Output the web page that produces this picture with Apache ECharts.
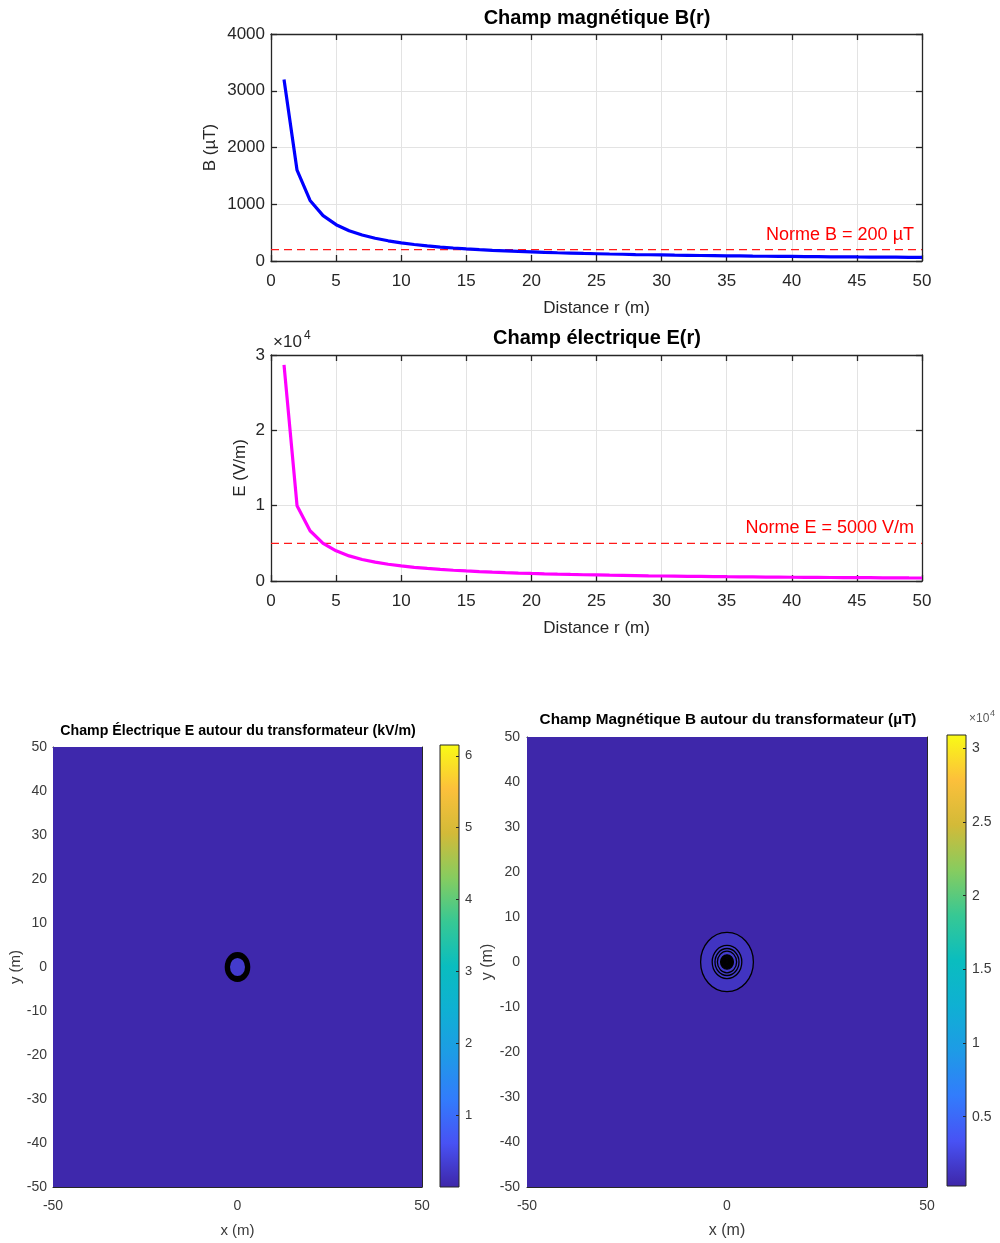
<!DOCTYPE html>
<html>
<head>
<meta charset="utf-8">
<title>Champs E et B autour du transformateur</title>
<script src="https://cdn.jsdelivr.net/npm/echarts@6/dist/echarts.min.js"></script>
<style>
  html, body { margin: 0; padding: 0; background: #fff; }
  #chart { width: 1000px; height: 1243px; }
</style>
</head>
<body>
<div id="chart"></div>
<script>
// distance r (m) and field values
const rValues = [1, 2, 3, 4, 5, 6, 7, 8, 9, 10, 11, 12, 13, 14, 15, 16, 17, 18, 19, 20,
  21, 22, 23, 24, 25, 26, 27, 28, 29, 30, 31, 32, 33, 34, 35, 36, 37, 38, 39, 40,
  41, 42, 43, 44, 45, 46, 47, 48, 49, 50]
const bValues = [3200, 1600, 1067, 800, 640, 533, 457, 400, 356, 320, 291, 267, 246, 229, 213,
  200, 188, 178, 168, 160, 152, 145, 139, 133, 128, 123, 119, 114, 110, 107, 103, 100, 97, 94,
  91, 89, 86, 84, 82, 80, 78, 76, 74, 73, 71, 70, 68, 67, 65, 64]
const eValues = [28700, 10000, 6667, 5000, 4000, 3333, 2857, 2500, 2222, 2000, 1818, 1667, 1538,
  1429, 1333, 1250, 1176, 1111, 1053, 1000, 952, 909, 870, 833, 800, 769, 741, 714, 690, 667,
  645, 625, 606, 588, 571, 556, 541, 526, 513, 500, 488, 476, 465, 455, 444, 435, 426, 417,
  408, 400]
const normSpan = [0, 50]                  // distance range covered by the limit lines
const bNorm = 200
const eNorm = 5000
const bNormLabel = 'Norme B = 200 µT'
const eNormLabel = 'Norme E = 5000 V/m'

// 2D maps: transformer at the origin, field bands (radius m, value) and contour radii (m)
const sourceXY = [0, 0]
const eBandRadius = [72, 2.3]
const eBandValue = [0.03, 0.3]            // kV/m
const eContourRadius = [2.3, 2.6, 2.9, 3.2]
const bBandRadius = [72, 6.6, 3.7]
const bBandValue = [400, 1300, 1800]      // µT
const bContourRadius = [6.6, 3.7, 3.0, 2.4, 1.6, 1.45, 1.3, 1.15, 1.0, 0.85, 0.7, 0.55, 0.4, 0.25, 0.1]
const eScale = [0, 6.15]
const bScale = [300, 30900]
const eBarTicks = [1, 2, 3, 4, 5, 6]
const bBarTicks = [5000, 10000, 15000, 20000, 25000, 30000]

const parula = ['#3e26a8', '#4852f4', '#327cfc', '#1e9be6', '#0fb0d3', '#0abdbf',
  '#37c894', '#87cc5f', '#d3ba38', '#fcc03b', '#f9fb15']

const FONT = "'Liberation Sans', Arial, sans-serif"
const INK = '#262626'
const GREY = '#3a3a3a'

const chart = echarts.init(document.getElementById('chart'), null, { renderer: 'canvas' })

function gradientStops() {
  return parula.map((c, i) => ({ offset: i / (parula.length - 1), color: c }))
}

// axis that only shows the box line with inside ticks (top / right sides)
function boxAxis(gridIndex, position, min, max, interval, tickLen, lw) {
  return {
    type: 'value', gridIndex, position, min, max, interval,
    axisLine: { show: true, onZero: false, lineStyle: { color: INK, width: lw } },
    axisTick: { show: true, inside: true, length: tickLen, lineStyle: { color: INK, width: lw } },
    axisLabel: { show: false },
    splitLine: { show: false }
  }
}

function lineAxis(gridIndex, position, min, max, interval, opts) {
  return Object.assign({
    type: 'value', gridIndex, position, min, max, interval,
    axisLine: { show: true, onZero: false, lineStyle: { color: INK, width: 1.3 } },
    axisTick: { show: true, inside: true, length: 6, lineStyle: { color: INK, width: 1.3 } },
    splitLine: { show: true, lineStyle: { color: '#e3e3e3', width: 1 } },
    nameLocation: 'middle', nameMoveOverlap: false,
    nameTextStyle: { color: INK, fontSize: 17, fontFamily: FONT }
  }, opts)
}

function mapAxis(gridIndex, position, interval, name, nameGap, nameSize, labelSize, margin) {
  return {
    type: 'value', gridIndex, position, min: -50, max: 50, interval,
    name, nameGap, nameLocation: 'middle', nameMoveOverlap: false,
    nameTextStyle: { color: GREY, fontSize: nameSize, fontFamily: FONT },
    axisLine: { show: true, onZero: false, lineStyle: { color: INK, width: 1 } },
    axisTick: { show: true, inside: true, length: 4, lineStyle: { color: INK } },
    axisLabel: { color: GREY, fontSize: labelSize, fontFamily: FONT, margin },
    splitLine: { show: false }
  }
}

function barAxis(gridIndex, scale, ticks, labelSize, fmt) {
  return {
    type: 'value', gridIndex, position: 'right', min: scale[0], max: scale[1],
    axisLine: { show: false, onZero: false }, splitLine: { show: false },
    axisTick: { show: true, inside: true, length: 3, customValues: ticks, lineStyle: { color: INK } },
    axisLabel: { color: GREY, fontSize: labelSize, fontFamily: FONT, margin: 6,
      customValues: ticks, formatter: fmt }
  }
}

function bandItem(radius, value) {
  return [sourceXY[0], sourceXY[1], radius, value]
}

function renderBand(params, api) {
  const c = api.coord([api.value(0), api.value(1)])
  const s = api.size([api.value(2), api.value(2)])
  return {
    type: 'ellipse',
    shape: { cx: c[0], cy: c[1], rx: s[0], ry: s[1] },
    style: { fill: api.visual('color') }
  }
}

function contourRenderer(width) {
  return function(params, api) {
    const c = api.coord([api.value(0), api.value(1)])
    const s = api.size([api.value(2), api.value(2)])
    return {
      type: 'ellipse',
      shape: { cx: c[0], cy: c[1], rx: s[0], ry: s[1] },
      style: { fill: 'none', stroke: '#000', lineWidth: width }
    }
  }
}

function titleText(text, x, y, size) {
  return {
    type: 'text', x, y, z: 10,
    style: { text, fill: '#000', font: 'bold ' + size + 'px ' + FONT,
      textAlign: 'center', textVerticalAlign: 'middle' }
  }
}

// dashed limit line, drawn as its own line series; a markLine carries only the text
function normSeries(axisIndex, value, label) {
  return {
    name: label, type: 'line', xAxisIndex: axisIndex, yAxisIndex: axisIndex,
    silent: true, z: 3,
    data: normSpan.map(x => [x, value]),
    showSymbol: false, symbol: 'none',
    lineStyle: { color: '#ff1a1a', width: 1.2, type: [8, 5] },
    markLine: {
      silent: true, symbol: 'none',
      lineStyle: { color: 'rgba(255,255,255,0)', width: 0 },
      label: { position: 'insideEndTop', formatter: label, color: '#ff0000',
        fontSize: 18, fontFamily: FONT, distance: [8, 6] },
      data: [{ yAxis: value }]
    }
  }
}

const option = {
  animation: false,
  backgroundColor: '#fff',
  grid: [
    { left: 271, top: 34, width: 651, height: 227 },
    { left: 271, top: 355, width: 651, height: 226 },
    { left: 53, top: 747, width: 369, height: 440 },
    { left: 440, top: 745, width: 19, height: 442, show: true, borderColor: INK, borderWidth: 1,
      backgroundColor: new echarts.graphic.LinearGradient(0, 1, 0, 0, gradientStops()) },
    { left: 527, top: 737, width: 400, height: 450 },
    { left: 947, top: 735, width: 19, height: 451, show: true, borderColor: INK, borderWidth: 1,
      backgroundColor: new echarts.graphic.LinearGradient(0, 1, 0, 0, gradientStops()) }
  ],
  xAxis: [
    lineAxis(0, 'bottom', 0, 50, 5, {
      name: 'Distance r (m)', nameGap: 39,
      axisLabel: { color: INK, fontSize: 17, fontFamily: FONT, margin: 12 }
    }),
    boxAxis(0, 'top', 0, 50, 5, 6, 1.3),
    lineAxis(1, 'bottom', 0, 50, 5, {
      name: 'Distance r (m)', nameGap: 39,
      axisLabel: { color: INK, fontSize: 17, fontFamily: FONT, margin: 12 }
    }),
    boxAxis(1, 'top', 0, 50, 5, 6, 1.3),
    mapAxis(2, 'bottom', 50, 'x (m)', 36, 15, 14, 12),
    boxAxis(2, 'top', -50, 50, 50, 4, 1),
    { type: 'value', gridIndex: 3, min: 0, max: 1, show: false },
    mapAxis(4, 'bottom', 50, 'x (m)', 36, 16, 14, 12),
    boxAxis(4, 'top', -50, 50, 50, 4, 1),
    { type: 'value', gridIndex: 5, min: 0, max: 1, show: false }
  ],
  yAxis: [
    lineAxis(0, 'left', 0, 4000, 1000, {
      name: 'B (µT)', nameGap: 52,
      axisLabel: { color: INK, fontSize: 17, fontFamily: FONT, margin: 6, formatter: v => String(v) }
    }),
    boxAxis(0, 'right', 0, 4000, 1000, 6, 1.3),
    lineAxis(1, 'left', 0, 30000, 10000, {
      name: 'E (V/m)', nameGap: 22,
      axisLabel: { color: INK, fontSize: 17, fontFamily: FONT, margin: 6,
        formatter: v => String(v / 10000) }
    }),
    boxAxis(1, 'right', 0, 30000, 10000, 6, 1.3),
    mapAxis(2, 'left', 10, 'y (m)', 30, 15, 14, 6),
    boxAxis(2, 'right', -50, 50, 10, 4, 1),
    barAxis(3, eScale, eBarTicks, 13, v => String(v)),
    mapAxis(4, 'left', 10, 'y (m)', 31, 16, 14, 7),
    boxAxis(4, 'right', -50, 50, 10, 4, 1),
    barAxis(5, bScale, bBarTicks, 14, v => String(v / 10000))
  ],
  visualMap: [
    { type: 'continuous', show: false, seriesIndex: 4, dimension: 3,
      min: eScale[0], max: eScale[1], inRange: { color: parula } },
    { type: 'continuous', show: false, seriesIndex: 6, dimension: 3,
      min: bScale[0], max: bScale[1], inRange: { color: parula } }
  ],
  graphic: [
    titleText('Champ magnétique B(r)', 597, 18, 20),
    titleText('Champ électrique E(r)', 597, 338, 20),
    titleText('Champ Électrique E autour du transformateur (kV/m)', 238, 731, 14.2),
    titleText('Champ Magnétique B autour du transformateur (µT)', 728, 720, 15.3),
    { type: 'text', x: 273, y: 334, style: { text: '×10', fill: INK, font: '17px ' + FONT } },
    { type: 'text', x: 304, y: 330, style: { text: '4', fill: INK, font: '12px ' + FONT } },
    { type: 'text', x: 969, y: 713, style: { text: '×10', fill: '#5a5a5a', font: '12px ' + FONT } },
    { type: 'text', x: 990, y: 709, style: { text: '4', fill: '#5a5a5a', font: '9px ' + FONT } }
  ],
  series: [
    {
      name: 'B', type: 'line', xAxisIndex: 0, yAxisIndex: 0, z: 4,
      data: rValues.map((r, i) => [r, bValues[i]]),
      showSymbol: false, symbol: 'none',
      lineStyle: { color: '#0000ff', width: 3.2 }
    },
    {
      name: 'E', type: 'line', xAxisIndex: 2, yAxisIndex: 2, z: 4,
      data: rValues.map((r, i) => [r, eValues[i]]),
      showSymbol: false, symbol: 'none',
      lineStyle: { color: '#ff00ff', width: 3.2 }
    },
    normSeries(0, bNorm, bNormLabel),
    normSeries(2, eNorm, eNormLabel),
    {
      name: 'E map', type: 'custom', xAxisIndex: 4, yAxisIndex: 4, clip: true,
      renderItem: renderBand,
      data: eBandRadius.map((r, i) => bandItem(r, eBandValue[i]))
    },
    {
      name: 'E contours', type: 'custom', xAxisIndex: 4, yAxisIndex: 4, clip: true,
      renderItem: contourRenderer(2),
      data: eContourRadius.map(r => bandItem(r, 0))
    },
    {
      name: 'B map', type: 'custom', xAxisIndex: 7, yAxisIndex: 7, clip: true,
      renderItem: renderBand,
      data: bBandRadius.map((r, i) => bandItem(r, bBandValue[i]))
    },
    {
      name: 'B contours', type: 'custom', xAxisIndex: 7, yAxisIndex: 7, clip: true,
      renderItem: contourRenderer(1.3),
      data: bContourRadius.map(r => bandItem(r, 0))
    }
  ]
}

chart.setOption(option)
</script>
</body>
</html>
